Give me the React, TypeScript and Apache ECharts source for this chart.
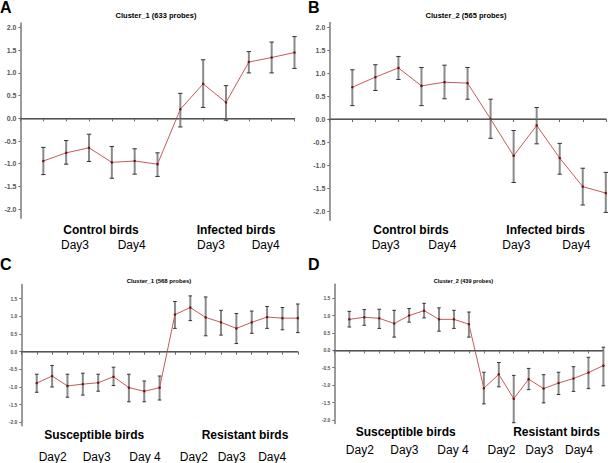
import React, { useEffect, useRef } from "react";
import * as echarts from "echarts";

// Panel A: Cluster_1 (633 probes)
const aMean = [-0.94, -0.76, -0.65, -0.97, -0.94, -1.01, 0.2, 0.76, 0.35, 1.24, 1.34, 1.45];
const aHigh = [-0.64, -0.49, -0.35, -0.62, -0.67, -0.76, 0.55, 1.29, 0.72, 1.47, 1.68, 1.8];
const aLow = [-1.24, -1.01, -0.95, -1.32, -1.23, -1.28, -0.19, 0.24, -0.04, 1.0, 1.0, 1.1];

// Panel B: Cluster_2 (565 probes)
const bMean = [0.69, 0.91, 1.11, 0.72, 0.8, 0.78, 0.0, -0.8, -0.14, -0.85, -1.47, -1.61];
const bHigh = [1.07, 1.18, 1.36, 1.12, 1.17, 1.12, 0.43, -0.25, 0.25, -0.53, -1.07, -1.16];
const bLow = [0.29, 0.62, 0.86, 0.29, 0.44, 0.43, -0.42, -1.38, -0.54, -1.2, -1.87, -2.03];

// Panel C: Cluster_1 (568 probes)
const cMean = [-0.89, -0.69, -0.97, -0.92, -0.88, -0.71, -1.02, -1.12, -1.02, 1.05, 1.25, 0.97, 0.83, 0.66, 0.83, 0.98, 0.95, 0.95];
const cHigh = [-0.64, -0.39, -0.64, -0.61, -0.64, -0.44, -0.64, -0.83, -0.69, 1.42, 1.58, 1.55, 1.17, 1.08, 1.15, 1.28, 1.25, 1.35];
const cLow = [-1.15, -1.0, -1.29, -1.23, -1.12, -0.96, -1.42, -1.42, -1.37, 0.66, 0.88, 0.45, 0.47, 0.23, 0.52, 0.66, 0.62, 0.54];

// Panel D: Cluster_2 (439 probes)
const dMean = [0.89, 0.95, 0.92, 0.77, 1.0, 1.14, 0.89, 0.89, 0.75, -1.09, -0.69, -1.39, -0.83, -1.1, -0.94, -0.81, -0.64, -0.44];
const dHigh = [1.12, 1.17, 1.18, 1.15, 1.2, 1.35, 1.22, 1.15, 1.1, -0.63, -0.35, -0.72, -0.52, -0.7, -0.63, -0.47, -0.2, 0.09];
const dLow = [0.67, 0.72, 0.63, 0.38, 0.81, 0.93, 0.55, 0.63, 0.38, -1.54, -1.05, -2.08, -1.13, -1.51, -1.27, -1.18, -1.1, -1.02];

const yTicksAB = [-2, -1.5, -1, -0.5, 0, 0.5, 1, 1.5, 2];
const yTicksCD = [-2, -1.5, -1, -0.5, 0, 0.5, 1, 1.5];

const titles = ["Cluster_1 (633 probes)", "Cluster_2 (565 probes)", "Cluster_1 (568 probes)", "Cluster_2 (439 probes)"];
const panelLetters = ["A", "B", "C", "D"];
const groupsAB = ["Control birds", "Infected birds"];
const groupsCD = ["Susceptible birds", "Resistant birds"];
const daysAB = ["Day3", "Day4", "Day3", "Day4"];
const daysCD = ["Day2", "Day3", "Day 4", "Day2", "Day3", "Day4"];

const FONT = "'Liberation Sans', Arial, sans-serif";

export default function App() {
  const ref = useRef<HTMLDivElement>(null);
  useEffect(() => {
    document.body.style.margin = "0";
    const chart = echarts.init(ref.current!, null, { renderer: "svg" });

    const panels = [
      { mean: aMean, hi: aHigh, lo: aLow, left: 20.5, top: 23, width: 274, height: 195.2, min: -2.2, max: 2.1, ticks: yTicksAB, fs: 7, cap: 2.2 },
      { mean: bMean, hi: bHigh, lo: bLow, left: 329.3, top: 22.4, width: 276.5, height: 197.8, min: -2.2, max: 2.1, ticks: yTicksAB, fs: 7, cap: 2.2 },
      { mean: cMean, hi: cHigh, lo: cLow, left: 21.4, top: 284.6, width: 276.4, height: 141.2, min: -2.1, max: 1.9, ticks: yTicksCD, fs: 5, cap: 1.8 },
      { mean: dMean, hi: dHigh, lo: dLow, left: 334.4, top: 284.2, width: 269, height: 139.2, min: -2.1, max: 1.9, ticks: yTicksCD, fs: 5, cap: 1.8 },
    ];

    const grid: any[] = [];
    const xAxis: any[] = [];
    const yAxis: any[] = [];
    const series: any[] = [];

    panels.forEach((p, i) => {
      const n = p.mean.length;
      grid.push({ left: p.left, top: p.top, width: p.width, height: p.height });
      xAxis.push({
        type: "value",
        gridIndex: i,
        min: 0,
        max: n,
        interval: 1,
        axisLine: { lineStyle: { color: "#7a7a7a", width: 1.5 } },
        axisTick: { show: true, length: 3, lineStyle: { color: "#666" } },
        axisLabel: { show: false },
        splitLine: { show: false },
      });
      yAxis.push({
        type: "value",
        gridIndex: i,
        min: p.min,
        max: p.max,
        axisLine: { show: true, lineStyle: { color: "#7a7a7a", width: 1.5 } },
        axisTick: { show: true, length: 2, customValues: p.ticks, lineStyle: { color: "#666" } },
        axisLabel: {
          show: true,
          customValues: p.ticks,
          formatter: (v: number) => v.toFixed(1),
          fontSize: p.fs,
          fontFamily: FONT,
          fontWeight: "bold",
          color: "#555",
          margin: 4,
        },
        splitLine: { show: false },
      });
      const cap = p.cap;
      series.push({
        type: "custom",
        xAxisIndex: i,
        yAxisIndex: i,
        z: 2,
        silent: true,
        data: p.mean.map((_, k) => [k + 1, p.hi[k], p.lo[k]]),
        encode: { x: 0, y: [1, 2] },
        renderItem: (params: any, api: any) => {
          const x = api.value(0);
          const a = api.coord([x, api.value(1)]);
          const b = api.coord([x, api.value(2)]);
          return {
            type: "group",
            children: [
              { type: "line", shape: { x1: a[0], y1: a[1], x2: b[0], y2: b[1] }, style: { stroke: "#8a8a8a", lineWidth: 2 } },
              { type: "line", shape: { x1: a[0] - cap, y1: a[1], x2: a[0] + cap, y2: a[1] }, style: { stroke: "#333", lineWidth: 1 } },
              { type: "line", shape: { x1: b[0] - cap, y1: b[1], x2: b[0] + cap, y2: b[1] }, style: { stroke: "#333", lineWidth: 1 } },
            ],
          };
        },
      });
      series.push({
        type: "line",
        xAxisIndex: i,
        yAxisIndex: i,
        z: 3,
        silent: true,
        data: p.mean.map((v, k) => [k + 1, v]),
        symbol: "circle",
        symbolSize: 2.5,
        itemStyle: { color: "#7a1010" },
        lineStyle: { color: "#c25c5c", width: 1 },
        markLine: {
          silent: true,
          symbol: "none",
          label: { show: false },
          lineStyle: { color: "#555", type: "solid", width: 1.2 },
          data: [{ yAxis: 0 }],
        },
      });
    });

    const txt = (text: string, x: number, y: number, size: number, bold: boolean, align = "center") => ({
      type: "text",
      x,
      y,
      style: {
        text,
        fontSize: size,
        fontFamily: FONT,
        fontWeight: bold ? "bold" : "normal",
        fill: "#000",
        textAlign: align,
        textVerticalAlign: "middle",
      },
    });

    const graphic: any[] = [
      txt(panelLetters[0], 0, 7, 16, true, "left"),
      txt(panelLetters[1], 308, 7, 16, true, "left"),
      txt(panelLetters[2], 0, 264, 16, true, "left"),
      txt(panelLetters[3], 308, 264, 16, true, "left"),
      txt(titles[0], 156, 15, 7.5, true),
      txt(titles[1], 466, 15, 7.5, true),
      txt(titles[2], 159, 281, 6, true),
      txt(titles[3], 463.5, 280.5, 5.5, true),
      // A
      txt(groupsAB[0], 101, 229.5, 12, true),
      txt(groupsAB[1], 236, 229.5, 12, true),
      txt(daysAB[0], 75, 245, 12, false),
      txt(daysAB[1], 131.7, 245, 12, false),
      txt(daysAB[2], 211, 245, 12, false),
      txt(daysAB[3], 265.7, 245, 12, false),
      // B
      txt(groupsAB[0], 411, 229.5, 12, true),
      txt(groupsAB[1], 545.7, 229.5, 12, true),
      txt(daysAB[0], 385.7, 245, 12, false),
      txt(daysAB[1], 442.3, 245, 12, false),
      txt(daysAB[2], 516.3, 245, 12, false),
      txt(daysAB[3], 576.3, 245, 12, false),
      // C
      txt(groupsCD[0], 94.2, 435, 12, true),
      txt(groupsCD[1], 245, 435, 12, true),
      txt(daysCD[0], 52.7, 457, 12, false),
      txt(daysCD[1], 96.7, 457, 12, false),
      txt(daysCD[2], 145, 457, 12, false),
      txt(daysCD[3], 193.8, 457, 12, false),
      txt(daysCD[4], 231.7, 457, 12, false),
      txt(daysCD[5], 272.2, 457, 12, false),
      // D
      txt(groupsCD[0], 405.7, 432, 12, true),
      txt(groupsCD[1], 556.5, 432, 12, true),
      txt(daysCD[0], 359.8, 449.5, 12, false),
      txt(daysCD[1], 404.3, 449.5, 12, false),
      txt(daysCD[2], 453, 449.5, 12, false),
      txt(daysCD[3], 501.5, 449.5, 12, false),
      txt(daysCD[4], 539.3, 449.5, 12, false),
      txt(daysCD[5], 579, 449.5, 12, false),
    ];

    chart.setOption({
      animation: false,
      backgroundColor: "#fff",
      grid,
      xAxis,
      yAxis,
      series,
      graphic,
    });
    return () => chart.dispose();
  }, []);
  return <div ref={ref} style={{ width: 608, height: 463 }} />;
}
